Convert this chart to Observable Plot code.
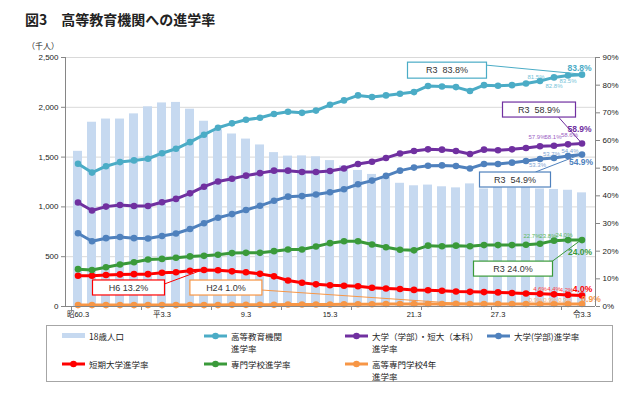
<!DOCTYPE html>
<html><head><meta charset="utf-8">
<script src="https://cdn.jsdelivr.net/npm/d3@7"></script>
<script src="https://cdn.jsdelivr.net/npm/@observablehq/plot@0.6"></script>
<style>
body{margin:0;background:#fff;font-family:"Liberation Sans","Noto Sans CJK JP",sans-serif;width:635px;height:394px;overflow:hidden;position:relative;color:#222}
#title{position:absolute;left:25px;top:11px;font-size:14px;font-weight:bold;line-height:16px;white-space:pre;font-family:"Noto Sans CJK JP",sans-serif}
#unit{position:absolute;left:27px;top:41px;font-size:8px;line-height:10px;font-family:"Noto Sans CJK JP",sans-serif}
#chart{position:absolute;left:0;top:35px}
#legend{position:absolute;left:46px;top:325px;width:567px;height:57px;border:1px solid #a6a6a6;box-sizing:border-box;font-family:"Noto Sans CJK JP",sans-serif}
.item{position:absolute;font-size:8.5px;line-height:12px}
.sw{position:absolute;width:23px}
</style></head><body>
<div id="title">図3　高等教育機関への進学率</div>
<div id="unit">（千人）</div>
<div id="chart"></div>
<div id="legend"></div>
<script>
// ---- data ----
const years = [1985,1986,1987,1988,1989,1990,1991,1992,1993,1994,1995,1996,1997,1998,1999,2000,2001,2002,2003,2004,2005,2006,2007,2008,2009,2010,2011,2012,2013,2014,2015,2016,2017,2018,2019,2020,2021];
const xTickYears = [1985,1991,1997,2003,2009,2015,2021];
const xTickLabels = ["昭60.3","平3.3","9.3","15.3","21.3","27.3","令3.3"];
const leftTicks = [0,500,1000,1500,2000,2500];
const rightTicks = [0,10,20,30,40,50,60,70,80,90];
// 18歳人口 (千人)
const pop18 = [1558,1850,1882,1882,1934,2005,2044,2049,1981,1860,1773,1732,1681,1622,1545,1510,1512,1503,1465,1411,1366,1326,1300,1237,1212,1219,1202,1191,1231,1180,1199,1190,1198,1180,1175,1167,1141];
// 進学率 (%)
const higherEdu = [51.6,48.4,50.7,52.2,52.8,53.4,55.4,57.0,59.4,62.1,64.6,66.2,67.5,68.2,69.6,70.4,70.0,70.8,72.9,74.5,76.3,75.7,76.3,76.9,77.5,79.7,79.5,79.3,77.9,80.0,79.8,80.0,80.6,81.5,82.8,83.5,83.8];
const univJunior = [37.6,34.7,36.1,36.7,36.3,36.3,37.7,38.9,40.9,43.3,45.2,46.2,47.3,48.2,49.1,49.1,48.6,48.6,49.0,49.9,51.5,52.3,53.7,55.3,56.2,56.8,56.7,56.2,55.1,56.7,56.5,56.8,57.3,57.9,58.1,58.6,58.9];
const univ = [26.5,23.6,24.7,25.1,24.7,24.6,25.5,26.4,28.0,30.1,32.1,33.4,34.9,36.4,38.2,39.7,39.9,40.5,41.3,42.4,44.2,45.5,47.2,49.1,50.2,50.9,51.0,50.8,49.9,51.5,51.5,52.0,52.6,53.3,53.7,54.4,54.9];
const junior = [11.1,11.1,11.4,11.6,11.7,11.7,12.2,12.4,12.9,13.2,13.1,12.7,12.4,11.8,10.9,9.4,8.6,8.0,7.7,7.5,7.3,6.8,6.5,6.3,6.0,5.9,5.7,5.4,5.3,5.2,5.1,4.9,4.7,4.6,4.4,4.2,4.0];
const vocational = [13.5,13.2,14.2,15.2,16.0,17.0,17.2,17.6,18.1,18.3,18.7,19.3,19.4,19.4,20.0,20.6,20.6,21.7,22.9,23.6,23.6,22.4,21.4,20.5,20.3,22.0,21.8,22.0,21.8,22.2,22.2,22.2,22.3,22.7,23.8,24.0,24.0];
const kosen = [0.5,0.5,0.5,0.5,0.5,0.5,0.5,0.5,0.5,0.5,0.5,0.6,0.6,0.6,0.6,0.7,0.7,0.7,0.7,0.8,0.8,0.8,0.9,0.9,0.9,0.9,0.9,1.0,0.9,0.9,0.9,0.9,0.9,0.9,0.9,0.9,0.9];
const seriesNames = ["高等教育機関\n進学率","大学（学部）・短大（本科）\n進学率","大学(学部)進学率","短期大学進学率","専門学校進学率","高等専門学校4年\n進学率"];
const barName = "18歳人口";

// ---- styles ----
const K = 2500/90; // % -> left-axis units
const series = [
  {vals: higherEdu, color:"#4bacc6", light:"#74c3d8"},
  {vals: univJunior, color:"#7030a0", light:"#9c5fc4"},
  {vals: univ, color:"#4f81bd", light:"#7ea3d3"},
  {vals: junior, color:"#ff0000", light:"#ff3b3b"},
  {vals: vocational, color:"#3a9a3a", light:"#5cb85c"},
  {vals: kosen, color:"#f79646", light:"#f9b27a"}
];
const drawOrder = [5,3,4,2,1,0];
const rows = years.map((yr,i)=>({yr, pop: pop18[i]}));

// label offsets for last four points (2018-2021)
const lblOff = [
  [[-4,-3.5],[0,9],[0,6],[-2.5,-6.5]],
  [[-3,-9],[-1,-8.5],[1.5,-9],[-2.5,-14.7]],
  [[-2.5,6.5],[-2.5,-3.7],[2,-4.5],[-1,8]],
  [[0,-4.3],[0,-5.5],[-1.5,-4.4],[0.5,-6.6]],
  [[-8,-8],[-6,-5],[-4,-4.6],[-2,12]],
  [[-4.5,-4.2],[-4,-4.2],[-3,-4.2],[9,-4.5]]
];

const marks = [
  Plot.gridY(leftTicks.slice(1), {stroke:"#d9d9d9", strokeOpacity:1}),
  Plot.barY(rows, {x:"yr", y:"pop", fill:"#c6d9f0"}),
  Plot.axisY(leftTicks, {anchor:"left", tickFormat: d3.format(","), tickSize:4, tickPadding:3, fontSize:8, label:null, stroke:"#868686"}),
  Plot.axisY(rightTicks.map(p=>p*K), {anchor:"right", tickFormat: d=>Math.round(d/K)+"%", tickSize:4, tickPadding:3, fontSize:8, label:null, stroke:"#868686"}),
  Plot.axisX(xTickYears, {tickFormat: d=>xTickLabels[xTickYears.indexOf(d)], tickSize:0, tickPadding:5, fontSize:7.5, label:null})
];
for (const si of drawOrder) {
  const s = series[si];
  const data = years.map((yr,i)=>({yr, v: s.vals[i]*K}));
  marks.push(Plot.line(data, {x:"yr", y:"v", stroke:s.color, strokeWidth:3}));
  marks.push(Plot.dot(data, {x:"yr", y:"v", fill:s.color, r:3.3}));
}
series.forEach((s,si)=>{
  for (let k=0;k<4;k++){
    const i = years.length-4+k, bold = k===3;
    marks.push(Plot.text([i], {x: j=>years[j], y: j=>s.vals[j]*K, text: j=>s.vals[j].toFixed(1)+"%",
      dx: lblOff[si][k][0], dy: lblOff[si][k][1], fill: bold? s.color : s.light,
      fontSize: bold?8.5:6, fontWeight: bold?"bold":"normal"}));
  }
});

const chart = Plot.plot({
  width:635, height:289, marginLeft:65, marginRight:40, marginTop:22, marginBottom:18,
  style:{fontFamily:"'Liberation Sans','Noto Sans CJK JP',sans-serif", color:"#222", background:"transparent"},
  x:{type:"band", domain:years, paddingInner:0.35, paddingOuter:0.175, axis:null},
  y:{domain:[0,2500], axis:null},
  marks
});
document.getElementById("chart").appendChild(chart);

// ---- axis lines, x ticks, callouts ----
const svg = d3.select(chart);
const sx = chart.scale("x"), sy = chart.scale("y");
const cx = v => sx.apply(v) + sx.bandwidth/2;
const py = p => sy.apply(p*K);
const L = 65, R = 595, T = sy.apply(2500), B = sy.apply(0);
const g = svg.append("g").attr("stroke","#868686").attr("stroke-width",1);
g.append("line").attr("x1",L+0.5).attr("x2",L+0.5).attr("y1",T).attr("y2",B);
g.append("line").attr("x1",R+0.5).attr("x2",R+0.5).attr("y1",T).attr("y2",B);
g.append("line").attr("x1",L).attr("x2",R).attr("y1",B+0.5).attr("y2",B+0.5);
for (let i=0;i<=years.length;i+=5){
  const x = Math.round(cx(years[Math.min(i,years.length-1)]) - (i<years.length? sx.step/2 : -sx.step/2)) + 0.5;
  g.append("line").attr("x1",x).attr("x2",x).attr("y1",B).attr("y2",B+4);
}
const callouts = [
  {si:0, i:36, text:`R3  ${higherEdu[36].toFixed(1)}%`, off:[-134.5,-4], w:79, h:16, lead:[39.5,-5]},
  {si:1, i:36, text:`R3  ${univJunior[36].toFixed(1)}%`, off:[-42.5,-33.5], w:73, h:15, lead:[19.5,7.5]},
  {si:2, i:36, text:`R3  ${univ[36].toFixed(1)}%`, off:[-66.5,25.4], w:71, h:15, lead:[20.5,-7.5]},
  {si:4, i:36, text:`R3 ${vocational[36].toFixed(1)}%`, off:[-68.5,29], w:79, h:15, lead:[39.5,-7.5]},
  {si:3, i:9, text:`H6 ${junior[9].toFixed(1)}%`, off:[-75,18], w:72, h:15, lead:[36,-3.5]},
  {si:5, i:27, text:`H24 ${kosen[27].toFixed(1)}%`, off:[-229.6,-15.7], w:72, h:15, lead:[36,2.5]}
];
const cg = svg.append("g");
for (const c of callouts){
  const s = series[c.si];
  const tx = cx(years[c.i]), ty = py(s.vals[c.i]);
  const bx = tx + c.off[0], by = ty + c.off[1];
  cg.append("line").attr("x1",bx+c.lead[0]).attr("y1",by+c.lead[1]).attr("x2",tx).attr("y2",ty)
    .attr("stroke",s.color).attr("stroke-width",1);
  cg.append("rect").attr("x",bx-c.w/2).attr("y",by-c.h/2).attr("width",c.w).attr("height",c.h)
    .attr("fill","#fff").attr("stroke",s.color).attr("stroke-width",1.2);
  cg.append("text").attr("x",bx).attr("y",by).attr("dy","0.35em").attr("text-anchor","middle")
    .attr("font-size",9).attr("fill","#333").style("white-space","pre").attr("xml:space","preserve").text(c.text);
}

// ---- legend ----
const leg = document.getElementById("legend");
const colX = [15,157,298,440], rowY = [4,32];
const items = [{name:barName, bar:true}].concat(seriesNames.map((n,k)=>({name:n, s:series[k]})));
items.forEach((it,k)=>{
  const col = k%4, row = Math.floor(k/4);
  const sw = document.createElement("div");
  sw.className = "sw";
  sw.style.left = colX[col]+"px"; sw.style.top = (rowY[row]+6)+"px";
  if (it.bar) {
    sw.innerHTML = `<svg width="23" height="6" style="position:absolute;top:-3px"><rect x="0" y="0" width="23" height="5" fill="#c6d9f0"/></svg>`;
  } else {
    sw.innerHTML = `<svg width="23" height="8" style="position:absolute;top:-4px"><line x1="0" x2="23" y1="4" y2="4" stroke="${it.s.color}" stroke-width="3"/><circle cx="11.5" cy="4" r="3.3" fill="${it.s.color}"/></svg>`;
  }
  leg.appendChild(sw);
  const t = document.createElement("div");
  t.className = "item";
  t.style.left = (colX[col]+27)+"px"; t.style.top = rowY[row]+"px";
  t.innerHTML = it.name.replace("\n","<br>");
  leg.appendChild(t);
});
</script>
</body></html>
